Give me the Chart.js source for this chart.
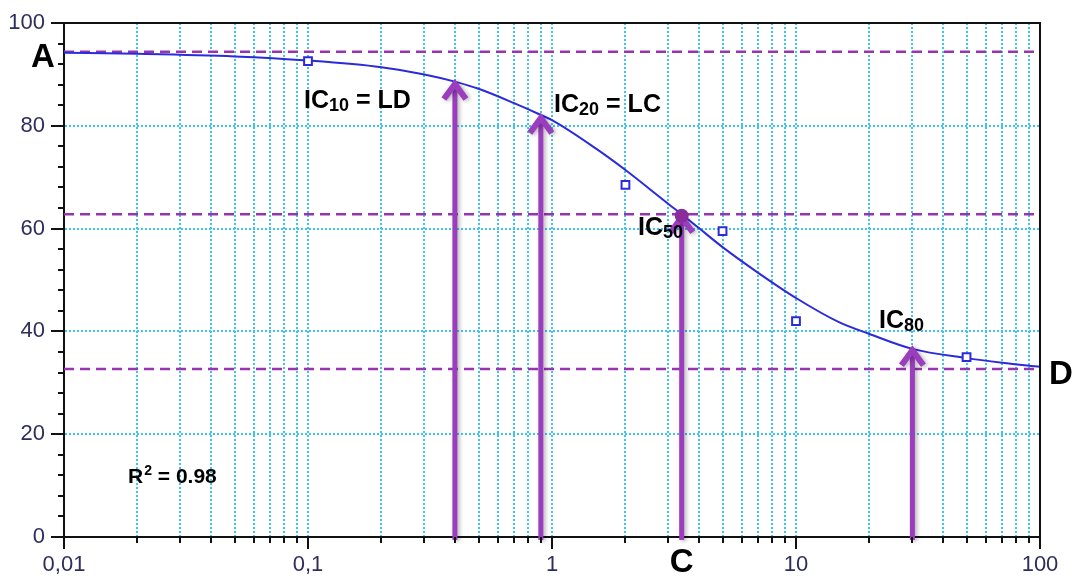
<!DOCTYPE html>
<html>
<head>
<meta charset="utf-8">
<script src="https://cdn.jsdelivr.net/npm/chart.js@4/dist/chart.umd.min.js"></script>
<style>
  html, body { margin: 0; padding: 0; background: #fff; }
  canvas { display: block; }
</style>
</head>
<body>
<canvas id="doseChart" width="1076" height="579"></canvas>
<script>
// Dose-response data
const curveX = [0.01, 0.02, 0.05, 0.1, 0.2, 0.3, 0.4, 0.5, 0.7, 0.9, 1, 1.5, 2, 3, 3.4, 4, 5, 7, 10, 15, 20, 30, 50, 70, 100];
const curveY = [94.2, 94.0, 93.5, 92.7, 91.4, 90.0, 88.6, 87.2, 84.4, 82.1, 81.1, 75.7, 71.4, 64.8, 62.8, 60.1, 56.4, 51.4, 46.5, 41.8, 39.5, 36.6, 34.8, 33.9, 33.1];

const measuredX = [0.1, 2, 5, 10, 50];
const measuredY = [92.6, 68.5, 59.5, 42.0, 35.0];

// Plateaus / midpoint (dashed lines)
const levelNames = ['A', 'IC50', 'D'];
const levelValues = [94.4, 62.8, 32.7];

// Arrows: dose and the response where the arrow touches the curve
const arrowX = [0.40, 0.90, 3.4, 30];
const arrowY = [88.7, 82.1, 62.8, 36.9];

const ic50X = 3.4;
const ic50Y = 62.5;

// Axes
const xMajorTicks = [0.01, 0.1, 1, 10, 100];
const xTickLabels = ['0,01', '0,1', '1', '10', '100'];
const xMinorSteps = [2, 3, 4, 5, 6, 7, 8, 9];
const yLabelValues = [0, 20, 40, 60, 80, 100];
const yStep = 4;

const blue = '#2b2bdc';
const purple = '#9b3dbf';
const dashPurple = '#9834b0';
const gridBlue = '#3fc4f0';
const tickText = '#2e2e5c';
const fontFamily = "'Liberation Sans', Arial, sans-serif";

const xTickValues = [];
xMajorTicks.forEach((m, i) => {
    xTickValues.push(m);
    if (i < xMajorTicks.length - 1) xMinorSteps.forEach(s => xTickValues.push(+(m * s).toPrecision(3)));
});

function isMajorX(v) {
    return xMajorTicks.some(m => Math.abs(m - v) / m < 1e-6);
}

// Frame, tick marks, arrows, texts
const decorPlugin = {
    id: 'decor',
    afterDatasetsDraw(chart) {
        const { ctx, chartArea: a, scales: { x, y } } = chart;

        // arrows
        arrowX.forEach((v, i) => {
            const px = x.getPixelForValue(v);
            const top = y.getPixelForValue(arrowY[i]);
            ctx.save();
            ctx.strokeStyle = purple;
            ctx.shadowColor = 'rgba(0,0,0,0.3)';
            ctx.shadowBlur = 4;
            ctx.shadowOffsetX = 2;
            ctx.shadowOffsetY = 1;
            ctx.lineWidth = 5;
            ctx.beginPath();
            ctx.moveTo(px, a.bottom + 3);
            ctx.lineTo(px, top + 4);
            ctx.stroke();
            ctx.lineWidth = 6;
            ctx.lineJoin = 'miter';
            ctx.beginPath();
            ctx.moveTo(px - 11, top + 18);
            ctx.lineTo(px, top + 3);
            ctx.lineTo(px + 11, top + 18);
            ctx.stroke();
            ctx.restore();
        });

        // IC50 point
        ctx.save();
        ctx.fillStyle = '#8a2c9c';
        ctx.beginPath();
        ctx.arc(x.getPixelForValue(ic50X), y.getPixelForValue(ic50Y), 7, 0, Math.PI * 2);
        ctx.fill();
        ctx.restore();
    },
    afterDraw(chart) {
        const { ctx, chartArea: a, scales: { x, y } } = chart;
        ctx.save();
        ctx.strokeStyle = '#111';
        ctx.lineWidth = 2;
        ctx.beginPath();
        ctx.moveTo(a.left - 1, a.top);
        ctx.lineTo(a.right, a.top);
        ctx.lineTo(a.right, a.bottom);
        ctx.stroke();

        // tick marks
        ctx.lineWidth = 2;
        x.ticks.forEach(t => {
            const px = Math.round(x.getPixelForValue(t.value));
            const len = isMajorX(t.value) ? 12 : 6;
            ctx.beginPath();
            ctx.moveTo(px, a.bottom);
            ctx.lineTo(px, a.bottom + len);
            ctx.stroke();
        });
        y.ticks.forEach(t => {
            const py = Math.round(y.getPixelForValue(t.value));
            const len = yLabelValues.includes(t.value) ? 13 : 6;
            ctx.beginPath();
            ctx.moveTo(a.left, py);
            ctx.lineTo(a.left - len, py);
            ctx.stroke();
        });

        // big letters
        ctx.fillStyle = '#000';
        ctx.font = 'bold 33px ' + fontFamily;
        ctx.textAlign = 'center';
        ctx.textBaseline = 'alphabetic';
        ctx.fillText('A', a.left - 21, y.getPixelForValue(levelValues[0]) + 15);
        ctx.fillText('D', a.left + a.width + 21, y.getPixelForValue(levelValues[2]) + 15);
        ctx.fillText('C', x.getPixelForValue(ic50X), a.bottom + 35);

        // annotations
        ctx.textAlign = 'left';
        const label = (main, sub, after, xv, yv) => {
            let px = x.getPixelForValue(xv);
            const py = y.getPixelForValue(yv);
            ctx.font = 'bold 25px ' + fontFamily;
            ctx.fillText(main, px, py);
            px += ctx.measureText(main).width;
            ctx.font = 'bold 18px ' + fontFamily;
            ctx.fillText(sub, px, py + 3);
            px += ctx.measureText(sub).width;
            if (after) {
                ctx.font = 'bold 25px ' + fontFamily;
                ctx.fillText(after, px, py);
            }
        };
        label('IC', '10', ' = LD', 0.0963, 83.5);
        label('IC', '20', ' = LC', 1.02, 82.7);
        label('IC', '50', '', 2.25, 58.8);
        label('IC', '80', '', 21.9, 40.7);

        // R squared
        let rx = x.getPixelForValue(0.0183);
        const ry = y.getPixelForValue(10.5);
        ctx.font = 'bold 21px ' + fontFamily;
        ctx.fillText('R', rx, ry);
        rx += ctx.measureText('R').width;
        ctx.font = 'bold 14px ' + fontFamily;
        ctx.fillText('2', rx + 1, ry - 8);
        rx += ctx.measureText('2').width + 1;
        ctx.font = 'bold 21px ' + fontFamily;
        ctx.fillText(' = 0.98', rx, ry);
        ctx.restore();
    }
};

const levelDatasets = levelValues.map((v, i) => ({
    label: levelNames[i],
    data: [{ x: xMajorTicks[0], y: v }, { x: xMajorTicks[xMajorTicks.length - 1], y: v }],
    showLine: true,
    borderColor: dashPurple,
    borderWidth: 2.5,
    borderDash: [10, 6],
    pointRadius: 0,
    order: 3
}));

new Chart(document.getElementById('doseChart').getContext('2d'), {
    type: 'scatter',
    data: {
        datasets: [
            ...levelDatasets,
            {
                label: 'Fit',
                data: curveX.map((v, i) => ({ x: v, y: curveY[i] })),
                showLine: true,
                borderColor: blue,
                borderWidth: 2,
                pointRadius: 0,
                cubicInterpolationMode: 'monotone',
                order: 2
            },
            {
                label: 'Measured',
                data: measuredX.map((v, i) => ({ x: v, y: measuredY[i] })),
                pointStyle: 'rect',
                pointRadius: 5.5,
                borderColor: blue,
                backgroundColor: '#fff',
                borderWidth: 2,
                order: 1
            }
        ]
    },
    options: {
        responsive: false,
        devicePixelRatio: 1,
        animation: false,
        layout: { padding: { top: 23, right: 36, left: 0, bottom: 0 } },
        plugins: {
            legend: { display: false },
            tooltip: { enabled: false }
        },
        scales: {
            x: {
                type: 'logarithmic',
                min: 0.01,
                max: 100,
                afterBuildTicks: scale => { scale.ticks = xTickValues.map(v => ({ value: v })); },
                afterFit: scale => {
                    scale.height = 42;
                    scale.paddingLeft = 0;
                    scale.paddingRight = 0;
                },
                grid: {
                    color: c => (c.tick && (c.tick.value === 0.01 || c.tick.value === 100)) ? 'transparent' : gridBlue,
                    lineWidth: 2,
                    drawTicks: false
                },
                border: { display: true, color: '#111', width: 2, dash: [2, 2] },
                ticks: {
                    autoSkip: false,
                    maxRotation: 0,
                    padding: 15,
                    color: tickText,
                    font: { family: fontFamily, size: 22 },
                    callback: v => {
                        const i = xMajorTicks.findIndex(m => Math.abs(m - v) / m < 1e-6);
                        return i >= 0 ? xTickLabels[i] : '';
                    }
                }
            },
            y: {
                min: 0,
                max: 100,
                afterFit: scale => {
                    scale.width = 64;
                    scale.paddingTop = 0;
                    scale.paddingBottom = 0;
                },
                grid: {
                    color: c => (c.tick && c.tick.value % 20 === 0 && c.tick.value > 0 && c.tick.value < 100) ? gridBlue : 'transparent',
                    lineWidth: 2,
                    drawTicks: false
                },
                border: { display: true, color: '#111', width: 2, dash: [2, 2] },
                ticks: {
                    stepSize: yStep,
                    autoSkip: false,
                    padding: 19,
                    color: tickText,
                    font: { family: fontFamily, size: 22 },
                    callback: v => yLabelValues.includes(v) ? String(v) : ''
                }
            }
        }
    },
    plugins: [decorPlugin]
});
</script>
</body>
</html>
